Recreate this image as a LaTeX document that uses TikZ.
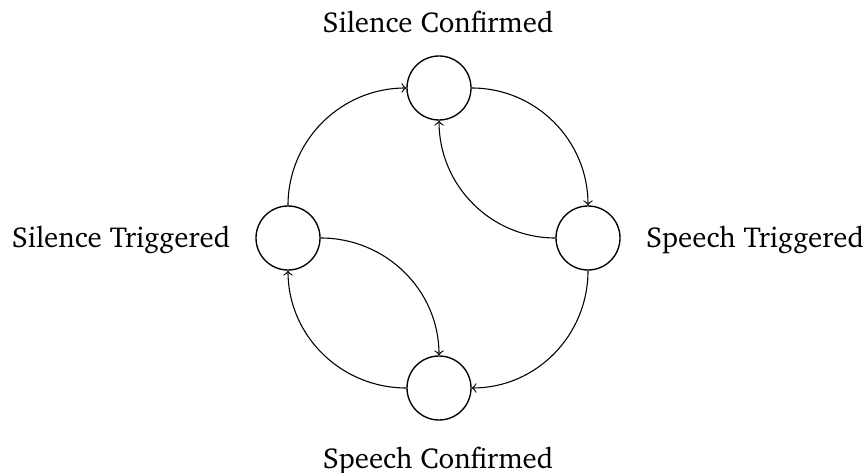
\documentclass[tikz,border=0pt]{standalone}
\usepackage[T1]{fontenc}
\usepackage{charter}
\begin{document}
\begin{tikzpicture}[x=0.3687pt,y=-0.3687pt,
  state/.style={circle,draw,line width=0.5pt,minimum size=64*0.3687pt,inner sep=0pt},
  lbl/.style={font=\fontsize{10.65}{12.8}\selectfont},
  conn/.style={->,line width=0.4pt}]
\useasboundingbox (0,0) rectangle (868,473);
\node[state] (top) at (439,88) {};
\node[state] (right) at (588,238) {};
\node[state] (left) at (288,238) {};
\node[state] (bot) at (439,388) {};
\node[lbl] (ltop) at (438,22) {Silence Confirmed};
\node[lbl] (lright) at (755,240) {Speech Triggered};
\node[lbl] (lleft) at (121,240) {Silence Triggered};
\node[lbl] (lbot) at (438,461) {Speech Confirmed};
\draw[conn] (top.east) to[out=0,in=90] (right.north);
\draw[conn] (right.south) to[out=-90,in=0] (bot.east);
\draw[conn] (bot.west) to[out=180,in=-90] (left.south);
\draw[conn] (left.north) to[out=90,in=180] (top.west);
\draw[conn] (right.west) to[out=180,in=-90] (top.south);
\draw[conn] (left.east) to[out=0,in=90] (bot.north);
\end{tikzpicture}
\end{document}
